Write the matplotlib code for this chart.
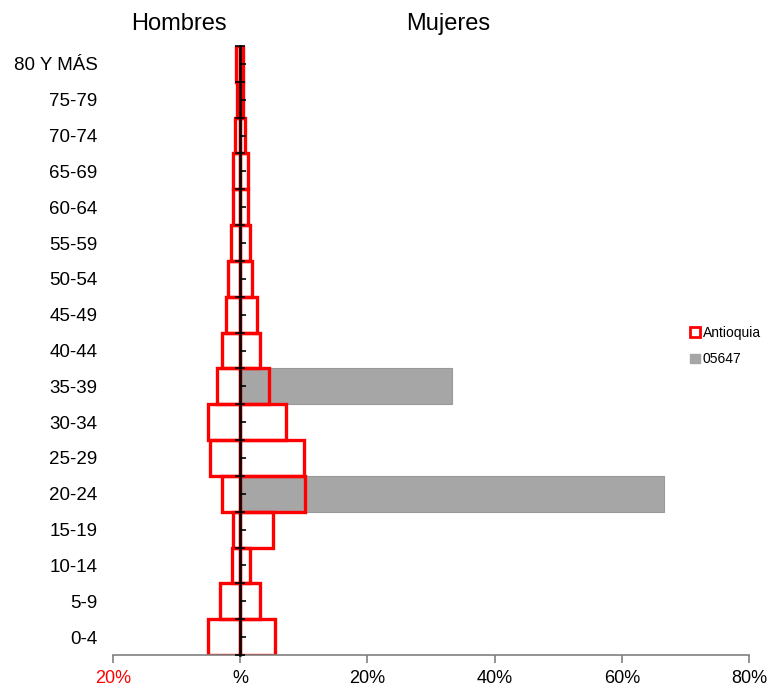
import matplotlib
matplotlib.use("Agg")
import matplotlib.pyplot as plt
from matplotlib.patches import Rectangle
import numpy as np

plt.rcParams['font.family'] = ['Liberation Sans', 'DejaVu Sans']

categories = ["0-4", "5-9", "10-14", "15-19", "20-24", "25-29", "30-34", "35-39",
              "40-44", "45-49", "50-54", "55-59", "60-64", "65-69", "70-74", "75-79", "80 Y MÁS"]
antioquia_hombres = [5.0, 3.1, 1.3, 1.1, 2.9, 4.8, 5.0, 3.7, 2.8, 2.25, 1.9, 1.5, 1.2, 1.15, 0.8, 0.5, 0.6]
antioquia_mujeres = [5.5, 3.1, 1.6, 5.2, 10.2, 10.1, 7.2, 4.6, 3.1, 2.6, 1.9, 1.6, 1.26, 1.15, 0.7, 0.4, 0.5]
mun_hombres = [0, 0, 0, 0, 0, 0, 0, 0, 0, 0, 0, 0, 0, 0, 0, 0, 0]
mun_mujeres = [0, 0, 0, 0, 66.67, 0, 0, 33.33, 0, 0, 0, 0, 0, 0, 0, 0, 0]
xticks = [-20, 0, 20, 40, 60, 80]
xticklabels = ["20%", "%", "20%", "40%", "60%", "80%"]

fig = plt.figure(figsize=(7.69, 6.88), dpi=100)
ax = fig.add_axes([113/769, 1-655/688, (749-113)/769, (655-46)/688])

y = np.arange(len(categories))
gray = "#a6a6a6"
ax.barh(y, [-v for v in mun_hombres], height=1.0, color=gray, edgecolor="#999999", linewidth=0.8, zorder=1)
ax.barh(y, mun_mujeres, height=1.0, color=gray, edgecolor="#999999", linewidth=0.8, zorder=1)
ax.barh(y, [-v for v in antioquia_hombres], height=1.0, fill=False, edgecolor="#ff0000", linewidth=2.4, zorder=2)
ax.barh(y, antioquia_mujeres, height=1.0, fill=False, edgecolor="#ff0000", linewidth=2.4, zorder=2)

ax.set_xlim(-20, 80)
ax.set_ylim(-0.5, 16.5)

for s in ["top", "right", "left"]:
    ax.spines[s].set_visible(False)
ax.spines["bottom"].set_color("#808080")
ax.spines["bottom"].set_linewidth(1.2)

ax.set_xticks(xticks)
ax.set_xticklabels(xticklabels, fontsize=13)
ax.get_xticklabels()[0].set_color("#ff0000")
ax.tick_params(axis="x", direction="out", length=6, color="#808080", width=1.2, pad=5)

ax.set_yticks(y)
ax.set_yticklabels(categories, fontsize=13.5)
ax.tick_params(axis="y", length=0, pad=11)

# vertical axis at x=0
sec = ax.secondary_yaxis(0.2)
sec.set_zorder(10)
sec.spines["left"].set_color("black")
sec.spines["left"].set_linewidth(1.8)
sec.set_yticks(y)
sec.set_yticklabels([])
sec.tick_params(axis="y", which="major", direction="in", length=4, width=1.2, color="black")
sec.set_yticks(np.arange(-0.5, 17, 1.0), minor=True)
sec.tick_params(axis="y", which="minor", direction="inout", length=7, width=1.2, color="black")

fig.text(179/769, 1-24/688, "Hombres", fontsize=17, ha="center", va="center")
fig.text(448/769, 1-24/688, "Mujeres", fontsize=17, ha="center", va="center")

handles = [Rectangle((0, 0), 1, 1, facecolor="white", edgecolor="#ff0000", linewidth=2.0),
           Rectangle((0, 0), 1, 1, facecolor=gray, edgecolor=gray)]
fig.legend(handles, ["Antioquia", "05647"], loc="center left", bbox_to_anchor=(690/769, 1-346/688),
           frameon=False, fontsize=10, handlelength=0.7, handleheight=0.7, handletextpad=0.2,
           labelspacing=0.9, borderaxespad=0, borderpad=0)

fig.savefig("out.png", dpi=100)
